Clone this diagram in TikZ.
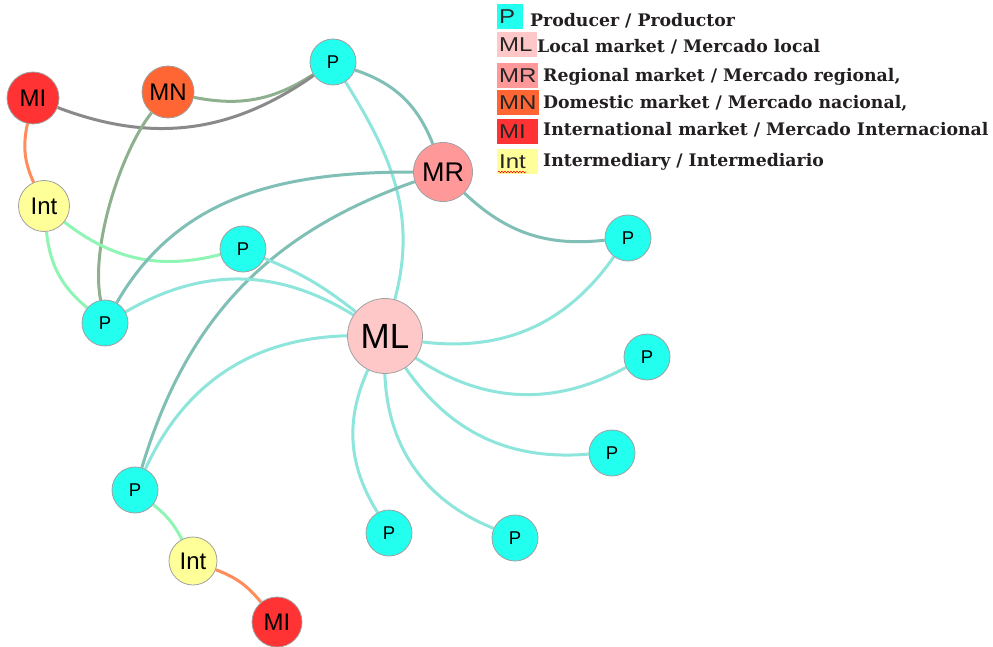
\documentclass[tikz,border=0pt]{standalone}
\usepackage{fontspec}
\setmainfont{Liberation Sans}
\newfontfamily\nodefont{Liberation Sans}
\newfontfamily\keyfont[FakeStretch=1.2]{Liberation Sans}
\newfontfamily\legendfont{DejaVu Serif}
\usetikzlibrary{backgrounds,decorations.pathmorphing}

% node fills
\definecolor{prodcyan}{HTML}{22FFEE}
\definecolor{localpink}{HTML}{FFC8C8}
\definecolor{regpink}{HTML}{FF9999}
\definecolor{natorange}{HTML}{FF6633}
\definecolor{intred}{HTML}{FF3333}
\definecolor{midyellow}{HTML}{FFFF99}
\definecolor{ringgray}{HTML}{A0A0A0}
% link colours
\definecolor{edgelocal}{HTML}{8EE5DC}
\definecolor{edgereg}{HTML}{7FBFB5}
\definecolor{edgenat}{HTML}{8FB08F}
\definecolor{edgeintl}{HTML}{8A8A8A}
\definecolor{edgemidP}{HTML}{8FF5B5}
\definecolor{edgemidI}{HTML}{FF8C5A}
\definecolor{legendtext}{HTML}{231F20}

\tikzset{
  actor/.style={circle, draw=ringgray, line width=0.8pt, inner sep=0pt, text=black},
  prod/.style={actor, fill=prodcyan, minimum size=46pt, font={\nodefont\fontsize{18.5pt}{18.5pt}\selectfont}},
  localmk/.style={actor, fill=localpink, minimum size=75pt, font={\nodefont\fontsize{35pt}{35pt}\selectfont}},
  regmk/.style={actor, fill=regpink, minimum size=59pt, font={\nodefont\fontsize{27pt}{27pt}\selectfont}},
  natmk/.style={actor, fill=natorange, minimum size=52pt, font={\nodefont\fontsize{24pt}{24pt}\selectfont}},
  intlmk/.style={actor, fill=intred, minimum size=52pt, font={\nodefont\fontsize{24pt}{24pt}\selectfont}},
  middle/.style={actor, fill=midyellow, minimum size=51pt, font={\nodefont\fontsize{24pt}{24pt}\selectfont}},
  link/.style={line width=3pt},
  keybox/.style={rectangle, anchor=west, inner xsep=2pt, inner ysep=0pt, minimum height=25pt,
    align=left, font={\keyfont\fontsize{20pt}{20pt}\selectfont}, text=black!85},
  keylabel/.style={anchor=base west, inner sep=0pt, text=legendtext,
    font={\legendfont\bfseries\fontsize{17.3pt}{17.3pt}\selectfont}},
}

\begin{document}
\begin{tikzpicture}[x=1pt, y=1pt]
\useasboundingbox (0,0) rectangle (993,-647);

% actors
\node[prod]    (PT)   at (333,-62)  {P};
\node[natmk]   (MN)   at (168,-92)  {MN};
\node[intlmk]  (MI1)  at (33,-98)   {MI};
\node[regmk]   (MR)   at (443,-172) {MR};
\node[middle]  (Int1) at (44,-206)  {Int};
\node[prod]    (PM)   at (243,-249) {P};
\node[prod]    (PR1)  at (628,-238) {P};
\node[prod]    (PL)   at (105,-323) {P};
\node[localmk] (ML)   at (385,-336) {ML};
\node[prod]    (PR2)  at (647,-357) {P};
\node[prod]    (PR3)  at (612,-453) {P};
\node[prod]    (PB1)  at (389,-533) {P};
\node[prod]    (PB2)  at (515,-538) {P};
\node[prod]    (PLL)  at (135,-490) {P};
\node[middle, minimum size=48pt] (Int2) at (193,-561) {Int};
\node[intlmk, minimum size=50pt] (MI2) at (277,-622) {MI};

% white page and links, drawn underneath the actors
\begin{scope}[on background layer]
\fill[white] (0,0) rectangle (993,-647);
\draw[link, edgenat]   (MN)   to[bend right=22] (PT);
\draw[link, edgeintl]  (MI1)  to[bend right=28] (PT);
\draw[link, edgenat]   (MN)   .. controls (122,-150) and (90,-245) .. (PL);
\draw[link, edgemidI]  (MI1)  to[bend right=18] (Int1);
\draw[link, edgemidP]  (Int1) to[bend right=26] (PM);
\draw[link, edgemidP]  (Int1) to[bend right=22] (PL);
\draw[link, edgereg]   (PT)   to[bend left=25] (MR);
\draw[link, edgelocal] (PT)   to[out=-58, in=75] (ML);
\draw[link, edgereg]   (MR)   to[out=180, in=60] (PL);
\draw[link, edgereg]   (MR)   to[bend right=27] (PLL);
\draw[link, edgereg]   (MR)   to[bend right=25] (PR1);
\draw[link, edgelocal] (PM)   to[bend left=8] (ML);
\draw[link, edgelocal] (PL)   to[bend left=31] (ML);
\draw[link, edgelocal] (ML)   to[bend right=32] (PLL);
\draw[link, edgelocal] (ML)   to[bend right=31] (PR1);
\draw[link, edgelocal] (ML)   to[bend right=31] (PR2);
\draw[link, edgelocal] (ML)   to[bend right=30] (PR3);
\draw[link, edgelocal] (ML)   to[bend right=33] (PB2);
\draw[link, edgelocal] (ML)   to[bend right=28] (PB1);
\draw[link, edgemidP]  (PLL)  to[bend left=12] (Int2);
\draw[link, edgemidI]  (Int2) to[bend left=15] (MI2);
\end{scope}

% key
\node[keybox, fill=prodcyan,  text width=22pt] (kP)   at (497,-17)  {P};
\node[keybox, fill=localpink, text width=36pt] (kML)  at (497,-45)  {ML};
\node[keybox, fill=regpink,   text width=37pt] (kMR)  at (497,-75.5) {MR};
\node[keybox, fill=natorange, text width=38pt] (kMN)  at (497,-102.5) {MN};
\node[keybox, fill=intred,    text width=37pt] (kMI)  at (497,-132) {MI};
\node[keybox, fill=midyellow, text width=37pt] (kInt) at (497,-161.5) {Int};
\draw[red, line width=0.6pt, decorate, decoration={snake, amplitude=0.8pt, segment length=3pt}]
  (498,-172) -- (526,-172);

\node[keylabel] (lP)   at (530,-27)  {Producer / Productor};
\node[keylabel] (lML)  at (537,-53)  {Local market / Mercado local};
\node[keylabel] (lMR)  at (543,-82)  {Regional market / Mercado regional,};
\node[keylabel] (lMN)  at (543,-109) {Domestic market / Mercado nacional,};
\node[keylabel] (lMI)  at (543,-136) {International market / Mercado Internacional};
\node[keylabel] (lInt) at (543,-167) {Intermediary / Intermediario};
\end{tikzpicture}
\end{document}
